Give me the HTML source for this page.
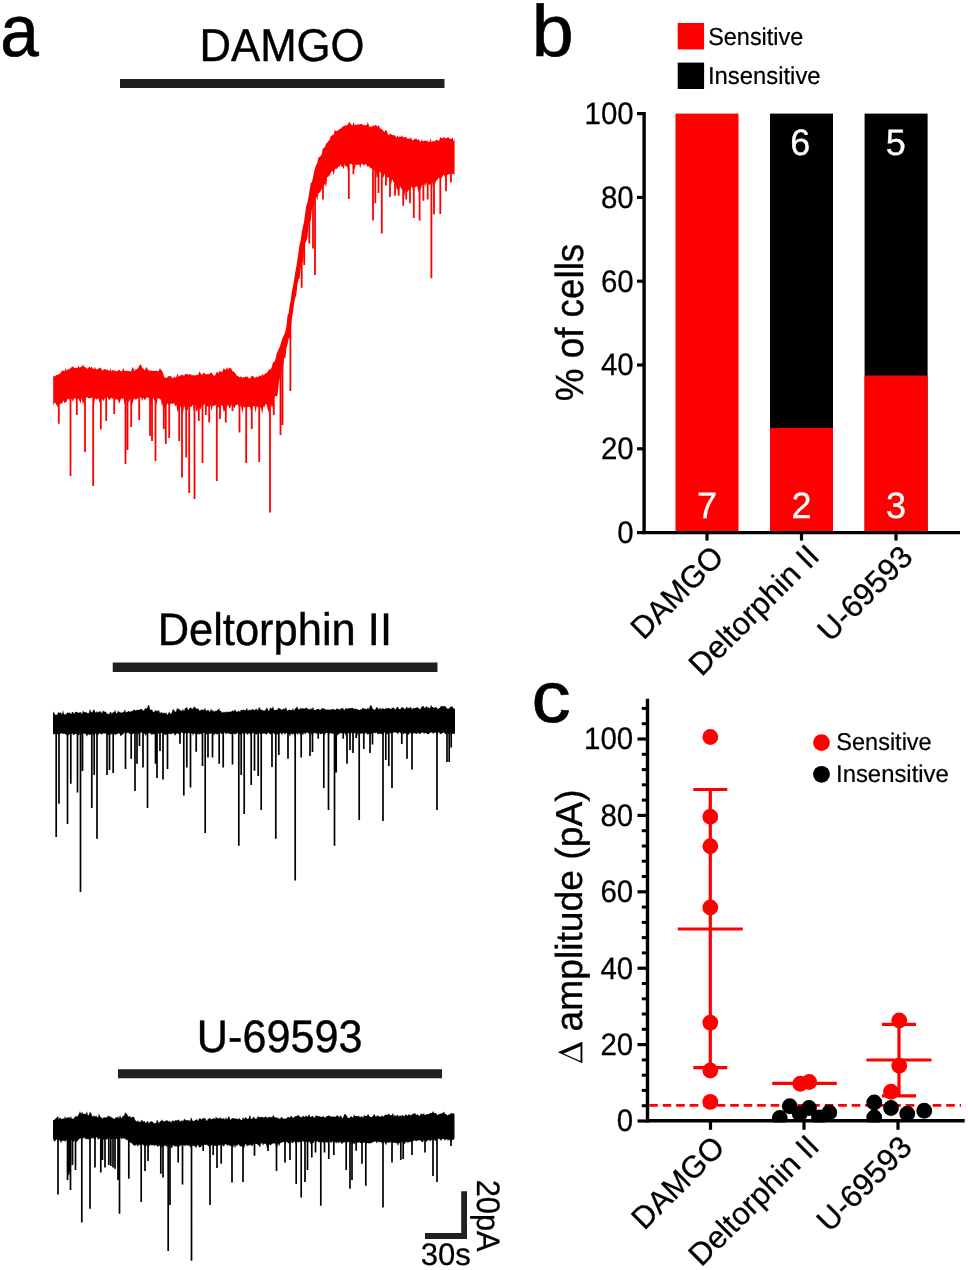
<!DOCTYPE html>
<html><head><meta charset="utf-8"><title>Figure</title>
<style>html,body{margin:0;padding:0;background:#fff}svg{display:block;will-change:transform}text{font-family:"Liberation Sans",sans-serif;fill:#000;text-rendering:geometricPrecision}</style></head>
<body>
<svg width="968" height="1270" viewBox="0 0 968 1270">
<rect width="968" height="1270" fill="#fff"/>
<text transform="translate(0.15,56.10) scale(0.9496,1)" font-size="73" style="fill:#000;stroke:#000;stroke-width:0.66px">a</text>
<text transform="translate(531.70,56.30) scale(1.0348,1)" font-size="72.8" style="fill:#000;stroke:#000;stroke-width:0.66px">b</text>
<text transform="translate(531.57,721.60) scale(1.0825,1)" font-size="72.4" style="fill:#000;stroke:#000;stroke-width:0.65px">c</text>
<text transform="translate(199.39,60.75) scale(0.9506,1)" font-size="46" style="fill:#000;stroke:#000;stroke-width:0.41px">DAMGO</text>
<rect x="120" y="79" width="324.5" height="9" fill="#231f20"/>
<path d="M53.2,375.7 54.4,376.5 55.5,375.8 56.6,375.1 57.7,375.1 58.8,374.0 59.9,374.1 61.0,372.2 62.1,370.5 63.2,370.6 64.3,371.5 65.4,368.5 66.5,370.4 67.5,369.6 68.6,369.5 69.7,368.5 70.8,368.3 71.9,366.4 73.0,366.5 74.1,367.7 75.2,368.2 76.3,367.6 77.4,368.2 78.5,365.6 79.6,367.8 80.7,367.1 81.8,366.5 82.9,364.4 84.0,366.8 85.1,366.9 86.2,368.0 87.3,368.8 88.4,367.8 89.5,366.5 90.6,367.9 91.7,366.5 92.8,368.5 93.9,369.3 95.0,366.7 96.1,369.8 97.2,369.1 98.3,369.1 99.4,367.6 100.5,367.9 101.6,368.9 102.7,370.7 103.8,369.3 104.9,369.1 106.0,369.9 107.1,369.2 108.2,370.3 109.3,371.2 110.4,368.5 111.5,371.3 112.6,369.8 113.7,371.0 114.8,370.1 115.9,371.6 117.0,371.3 118.1,370.6 119.2,369.6 120.3,371.1 121.4,371.6 122.5,370.3 123.6,367.9 124.7,371.4 125.8,370.8 126.9,370.8 128.0,371.0 129.1,371.0 130.2,371.4 131.3,371.3 132.4,366.7 133.5,368.4 134.6,371.3 135.7,369.1 136.8,369.6 137.9,368.6 139.0,366.2 140.1,364.3 141.2,364.9 142.3,368.0 143.4,368.6 144.5,370.6 145.6,368.7 146.7,367.1 147.8,369.6 148.9,370.5 150.0,370.5 151.1,370.5 152.2,371.0 153.3,371.1 154.4,370.8 155.5,371.0 156.6,370.5 157.7,371.5 158.8,370.8 159.9,368.3 161.0,369.8 162.1,371.1 163.2,373.7 164.3,377.4 165.4,377.4 166.5,377.9 167.6,377.1 168.7,376.1 169.8,376.3 170.9,376.1 172.0,377.7 173.1,378.4 174.2,376.4 175.3,377.7 176.4,376.9 177.5,373.6 178.6,377.0 179.7,375.7 180.8,375.6 181.9,374.5 183.0,375.3 184.1,375.8 185.2,373.7 186.3,374.4 187.4,373.4 188.5,375.1 189.6,374.0 190.7,374.2 191.8,375.6 192.9,374.9 194.0,375.5 195.1,375.4 196.2,375.1 197.3,375.3 198.4,374.3 199.5,371.3 200.6,373.2 201.7,375.1 202.8,373.8 203.9,372.5 205.0,373.7 206.1,374.4 207.2,374.0 208.3,374.3 209.4,374.0 210.5,372.7 211.6,372.6 212.7,374.4 213.8,375.6 214.9,376.0 216.0,373.2 217.1,371.4 218.2,373.8 219.3,371.0 220.4,371.6 221.5,371.9 222.6,371.3 223.7,368.1 224.8,369.3 225.9,370.1 227.0,367.0 228.1,369.8 229.2,367.6 230.3,368.3 231.4,368.5 232.5,371.8 233.6,371.0 234.7,372.8 235.8,373.8 236.9,376.2 238.0,375.8 239.1,377.3 240.2,377.0 241.3,376.2 242.4,378.2 243.5,377.1 244.6,377.2 245.7,376.4 246.8,376.7 247.9,376.7 249.0,378.5 250.1,378.6 251.2,376.4 252.3,375.6 253.4,376.8 254.5,377.6 255.6,377.8 256.7,376.2 257.8,377.6 258.9,376.2 260.0,375.3 261.1,376.6 262.2,373.7 263.3,375.5 264.4,374.3 265.5,373.4 266.6,372.9 267.7,371.8 268.8,369.9 269.9,369.4 271.0,369.0 272.1,365.7 273.2,362.1 274.3,362.0 275.4,359.4 276.5,354.2 277.6,351.6 278.7,349.1 279.8,346.7 280.9,343.2 282.0,339.4 283.1,336.9 284.2,334.6 285.3,331.6 286.4,326.6 287.5,315.8 288.6,313.4 289.7,304.9 290.8,300.2 291.9,291.3 293.0,286.1 294.1,279.8 295.2,272.5 296.3,266.7 297.4,260.0 298.5,252.6 299.6,244.0 300.7,240.4 301.8,232.6 302.9,226.9 304.1,221.2 305.2,213.2 306.3,205.7 307.4,202.7 308.5,197.1 309.6,190.1 310.7,183.6 311.8,181.9 312.9,178.1 314.0,172.1 315.1,167.9 316.2,164.4 317.3,163.2 318.4,157.5 319.5,157.0 320.6,156.0 321.7,154.5 322.8,148.5 323.9,147.9 325.0,147.0 326.1,143.3 327.2,143.0 328.3,141.1 329.4,140.2 330.5,136.6 331.6,135.9 332.7,134.6 333.8,134.8 334.9,129.2 336.0,131.5 337.1,130.7 338.2,130.5 339.3,128.9 340.4,129.0 341.5,127.6 342.6,126.9 343.7,125.9 344.8,125.4 345.9,125.4 347.0,125.3 348.1,124.3 349.2,121.4 350.3,123.6 351.4,124.8 352.5,125.5 353.6,122.0 354.7,125.2 355.8,124.5 356.9,125.2 358.0,123.9 359.1,124.8 360.2,124.0 361.3,124.0 362.4,124.5 363.5,125.0 364.6,125.4 365.7,125.1 366.8,125.0 367.9,121.8 369.0,126.0 370.1,126.8 371.2,126.8 372.3,126.6 373.4,125.2 374.5,126.1 375.6,124.8 376.7,126.1 377.8,126.4 378.9,125.0 380.0,128.5 381.1,128.6 382.2,129.7 383.3,130.7 384.4,131.9 385.5,130.3 386.6,130.2 387.7,133.8 388.8,135.2 389.9,133.7 391.0,134.0 392.1,135.1 393.2,135.2 394.3,135.0 395.4,136.3 396.5,137.3 397.6,135.5 398.7,137.6 399.8,136.2 400.9,137.0 402.0,135.2 403.1,137.6 404.2,137.3 405.3,137.1 406.4,137.3 407.5,138.8 408.6,138.5 409.7,139.0 410.8,137.2 411.9,139.7 413.0,140.6 414.1,139.3 415.2,138.7 416.3,138.7 417.4,139.9 418.5,139.2 419.6,140.8 420.7,142.0 421.8,139.0 422.9,141.4 424.0,140.8 425.1,140.6 426.2,141.0 427.3,140.8 428.4,141.7 429.5,142.1 430.6,138.6 431.7,142.4 432.8,140.5 433.9,141.6 435.0,141.1 436.1,139.8 437.2,140.0 438.3,140.9 439.4,139.9 440.5,136.9 441.6,138.0 442.7,138.6 443.8,136.4 444.9,138.6 446.0,138.1 447.1,138.0 448.2,136.9 449.3,138.4 450.4,138.7 451.5,139.0 452.6,137.3 453.7,141.4 454.6,138.1 L454.6,174.6 453.7,174.2 452.6,173.5 451.5,174.7 450.4,173.0 449.3,174.9 448.2,173.7 447.1,175.4 446.0,174.6 444.9,177.2 443.8,174.2 442.7,176.3 441.6,178.2 440.5,175.7 439.4,178.8 438.3,177.8 437.2,180.4 436.1,180.4 435.0,184.5 433.9,180.2 432.8,182.8 431.7,188.3 430.6,183.5 429.5,185.0 428.4,184.2 427.3,184.5 426.2,182.8 425.1,186.8 424.0,182.8 422.9,184.4 421.8,185.5 420.7,190.4 419.6,184.7 418.5,193.1 417.4,187.2 416.3,185.9 415.2,187.5 414.1,187.8 413.0,190.9 411.9,186.1 410.8,188.5 409.7,188.8 408.6,190.1 407.5,192.6 406.4,188.8 405.3,190.2 404.2,197.0 403.1,190.4 402.0,189.6 400.9,187.7 399.8,185.7 398.7,193.9 397.6,189.5 396.5,189.1 395.4,181.8 394.3,183.6 393.2,181.2 392.1,179.2 391.0,185.2 389.9,179.0 388.8,177.1 387.7,178.2 386.6,175.8 385.5,176.8 384.4,173.5 383.3,178.1 382.2,176.9 381.1,171.8 380.0,173.0 378.9,170.5 377.8,176.9 376.7,178.1 375.6,168.6 374.5,170.9 373.4,168.4 372.3,168.1 371.2,168.6 370.1,168.0 369.0,165.7 367.9,167.0 366.8,165.4 365.7,163.4 364.6,165.4 363.5,165.1 362.4,163.7 361.3,164.1 360.2,168.4 359.1,164.2 358.0,165.0 356.9,164.9 355.8,164.2 354.7,170.0 353.6,165.8 352.5,164.4 351.4,164.1 350.3,164.1 349.2,162.9 348.1,171.9 347.0,166.0 345.9,167.0 344.8,164.0 343.7,169.2 342.6,166.7 341.5,166.5 340.4,164.4 339.3,167.0 338.2,166.4 337.1,168.8 336.0,169.1 334.9,168.7 333.8,175.7 332.7,171.2 331.6,171.2 330.5,173.3 329.4,175.5 328.3,176.7 327.2,177.1 326.1,187.3 325.0,183.6 323.9,185.7 322.8,186.7 321.7,188.8 320.6,191.2 319.5,192.8 318.4,193.5 317.3,200.9 316.2,196.2 315.1,200.3 314.0,205.7 312.9,204.9 311.8,210.5 310.7,221.8 309.6,219.5 308.5,226.4 307.4,237.2 306.3,241.3 305.2,242.7 304.1,250.4 302.9,262.0 301.8,262.3 300.7,267.9 299.6,278.8 298.5,279.4 297.4,284.4 296.3,294.7 295.2,298.3 294.1,303.6 293.0,312.3 291.9,317.9 290.8,330.4 289.7,338.1 288.6,338.7 287.5,344.6 286.4,348.4 285.3,358.4 284.2,357.8 283.1,367.7 282.0,370.1 280.9,375.0 279.8,378.1 278.7,383.5 277.6,395.1 276.5,396.5 275.4,395.9 274.3,397.1 273.2,403.9 272.1,408.6 271.0,404.5 269.9,403.0 268.8,413.1 267.7,409.3 266.6,404.6 265.5,404.1 264.4,407.3 263.3,406.6 262.2,414.6 261.1,408.2 260.0,407.0 258.9,405.7 257.8,407.8 256.7,405.9 255.6,412.9 254.5,405.9 253.4,406.1 252.3,408.1 251.2,412.5 250.1,407.2 249.0,406.8 247.9,406.7 246.8,407.8 245.7,406.6 244.6,407.9 243.5,405.9 242.4,413.6 241.3,407.3 240.2,405.2 239.1,406.7 238.0,404.4 236.9,404.8 235.8,404.9 234.7,408.3 233.6,406.9 232.5,404.3 231.4,404.9 230.3,407.4 229.2,408.4 228.1,404.7 227.0,406.3 225.9,411.8 224.8,410.6 223.7,412.1 222.6,406.0 221.5,404.9 220.4,406.8 219.3,407.7 218.2,407.2 217.1,407.0 216.0,405.4 214.9,405.1 213.8,406.6 212.7,405.3 211.6,411.0 210.5,405.4 209.4,404.5 208.3,406.7 207.2,406.3 206.1,406.4 205.0,403.2 203.9,405.6 202.8,403.8 201.7,405.9 200.6,409.3 199.5,408.4 198.4,406.2 197.3,411.6 196.2,411.2 195.1,404.8 194.0,411.1 192.9,404.4 191.8,406.4 190.7,407.1 189.6,405.9 188.5,406.7 187.4,410.8 186.3,410.6 185.2,409.2 184.1,405.2 183.0,414.1 181.9,410.4 180.8,407.3 179.7,405.4 178.6,410.1 177.5,412.5 176.4,404.7 175.3,406.5 174.2,403.3 173.1,403.8 172.0,403.8 170.9,403.6 169.8,405.0 168.7,404.9 167.6,403.2 166.5,405.4 165.4,402.4 164.3,410.6 163.2,401.8 162.1,407.2 161.0,400.2 159.9,398.7 158.8,398.5 157.7,397.9 156.6,405.0 155.5,400.8 154.4,400.3 153.3,397.8 152.2,399.4 151.1,406.3 150.0,399.8 148.9,398.2 147.8,397.6 146.7,397.2 145.6,399.0 144.5,400.3 143.4,397.5 142.3,401.5 141.2,397.5 140.1,397.6 139.0,397.6 137.9,398.5 136.8,399.0 135.7,400.0 134.6,398.3 133.5,400.1 132.4,404.3 131.3,400.6 130.2,398.6 129.1,402.6 128.0,400.8 126.9,400.7 125.8,399.4 124.7,405.2 123.6,398.0 122.5,399.1 121.4,398.0 120.3,400.6 119.2,404.0 118.1,400.6 117.0,398.7 115.9,400.1 114.8,398.4 113.7,397.2 112.6,399.1 111.5,397.6 110.4,398.8 109.3,400.2 108.2,398.7 107.1,396.7 106.0,397.6 104.9,397.7 103.8,400.9 102.7,399.9 101.6,398.0 100.5,403.7 99.4,402.3 98.3,397.8 97.2,399.6 96.1,399.2 95.0,398.1 93.9,406.0 92.8,396.3 91.7,398.1 90.6,397.8 89.5,398.5 88.4,397.9 87.3,397.6 86.2,397.3 85.1,397.9 84.0,401.7 82.9,404.9 81.8,397.5 80.7,403.5 79.6,401.2 78.5,398.6 77.4,399.5 76.3,398.6 75.2,398.2 74.1,398.2 73.0,402.2 71.9,398.5 70.8,400.7 69.7,399.3 68.6,399.3 67.5,398.9 66.5,401.7 65.4,402.3 64.3,403.0 63.2,400.3 62.1,404.1 61.0,402.9 59.9,404.7 58.8,402.9 57.7,407.2 56.6,405.2 55.5,402.7 54.4,403.0 53.2,405.8Z" fill="#ff0000"/>
<path d="M58.8,389.1V423.8M70.5,383.8V476.0M76.8,383.2V415.0M85.0,383.0V452.0M93.2,383.7V486.0M100.8,384.3V429.5M106.2,384.5V421.0M114.2,384.8V414.0M125.5,384.9V464.0M127.5,384.9V450.0M131.2,384.8V427.0M139.2,382.8V420.0M150.0,385.0V436.0M152.0,385.1V441.0M155.5,385.3V461.0M163.8,390.4V429.0M165.8,391.3V444.0M169.2,391.3V438.0M179.2,391.5V441.0M182.0,391.4V477.5M186.2,391.1V457.5M189.2,390.9V493.0M194.5,390.5V499.0M198.8,390.2V421.0M202.5,389.9V463.0M205.8,389.8V415.0M209.2,390.0V422.5M216.8,390.0V481.0M220.0,389.5V419.0M225.8,388.2V422.5M232.5,388.5V411.0M239.5,391.6V432.5M246.2,392.0V463.0M251.8,392.1V429.0M259.2,391.6V462.0M270.0,387.5V512.5M273.8,381.9V415.0M280.5,360.3V435.0M282.5,353.0V425.0M290.4,316.6V391.0M301.7,248.8V287.7M304.2,233.8V265.0M309.3,206.8V243.6M313.0,191.5V248.6M315.0,184.0V275.0M323.0,168.5V199.5M348.8,144.5V199.0M353.4,144.6V174.3M373.0,148.2V220.4M375.3,148.6V203.3M378.5,149.2V193.0M381.8,151.7V233.5M386.0,154.8V185.6M390.0,157.2V197.0M395.0,159.8V195.7M398.7,161.6V195.7M403.2,163.8V205.8M406.2,163.9V199.5M410.0,163.7V203.3M413.8,163.6V217.9M419.6,163.3V220.4M423.4,163.1V200.8M427.7,162.9V199.5M431.4,162.6V278.3M434.0,161.4V214.6M440.3,158.5V213.9M446.0,157.0V191.2M451.0,157.3V182.6" stroke="#ff0000" stroke-width="1.8" fill="none"/>
<text transform="translate(157.66,644.50) scale(0.9552,1)" font-size="45.5" style="fill:#000;stroke:#000;stroke-width:0.41px">Deltorphin II</text>
<rect x="112.75" y="662.5" width="324.75" height="9.5" fill="#231f20"/>
<path d="M53.0,711.5 54.0,712.8 55.0,714.6 56.0,714.7 57.0,714.9 58.0,712.4 59.0,712.6 60.0,713.1 61.0,712.2 62.0,714.7 63.0,709.9 64.0,714.4 65.0,714.3 66.0,714.6 67.0,712.6 68.0,712.5 69.0,713.2 70.0,712.3 71.0,714.5 72.0,712.1 73.0,712.1 74.0,714.1 75.0,712.3 76.0,711.8 77.0,712.1 78.0,712.4 79.0,712.9 80.0,712.0 81.0,712.6 82.0,714.2 83.0,710.5 84.0,712.1 85.0,712.4 86.0,711.9 87.0,712.7 88.0,713.4 89.0,712.7 90.0,708.7 91.0,711.9 92.0,712.6 93.0,710.5 94.0,709.2 95.0,711.6 96.0,713.0 97.0,711.1 98.0,712.6 99.0,711.8 100.0,711.3 101.0,711.7 102.0,713.5 103.0,710.3 104.0,711.8 105.0,711.5 106.0,712.0 107.0,713.7 108.0,713.7 109.0,714.3 110.0,712.2 111.0,712.1 112.0,714.1 113.0,711.7 114.0,712.8 115.0,709.5 116.0,712.7 117.0,713.5 118.0,710.3 119.0,712.4 120.0,711.5 121.0,713.0 122.0,712.4 123.0,712.3 124.0,711.7 125.0,709.2 126.0,712.4 127.0,711.9 128.0,711.4 129.0,710.7 130.0,712.5 131.0,710.7 132.0,711.4 133.0,710.4 134.0,709.4 135.0,710.5 136.0,710.2 137.0,710.1 138.0,709.8 139.0,709.9 140.0,709.5 141.0,708.8 142.0,709.3 143.0,710.9 144.0,709.7 145.0,708.9 146.0,707.4 147.0,709.1 148.0,705.3 149.0,705.1 150.0,709.6 151.0,710.0 152.0,709.3 153.0,711.7 154.0,712.3 155.0,710.3 156.0,710.3 157.0,711.5 158.0,710.6 159.0,710.2 160.0,713.4 161.0,712.0 162.0,712.6 163.0,713.5 164.0,712.3 165.0,713.7 166.0,712.2 167.0,714.5 168.0,714.4 169.0,711.6 170.0,713.1 171.0,713.9 172.0,711.9 173.0,708.8 174.0,709.9 175.0,711.6 176.0,711.9 177.0,707.9 178.0,709.0 179.0,708.8 180.0,710.5 181.0,710.2 182.0,710.9 183.0,708.8 184.0,711.5 185.0,708.1 186.0,708.2 187.0,706.8 188.0,710.0 189.0,709.3 190.0,707.2 191.0,708.2 192.0,708.3 193.0,709.0 194.0,706.2 195.0,707.5 196.0,707.8 197.0,709.4 198.0,707.9 199.0,709.7 200.0,711.2 201.0,709.2 202.0,709.9 203.0,709.2 204.0,710.6 205.0,707.5 206.0,710.7 207.0,710.6 208.0,709.8 209.0,710.8 210.0,711.9 211.0,708.4 212.0,710.8 213.0,710.0 214.0,712.3 215.0,710.3 216.0,711.5 217.0,710.0 218.0,710.1 219.0,708.0 220.0,710.9 221.0,710.9 222.0,712.9 223.0,711.8 224.0,712.5 225.0,711.4 226.0,712.8 227.0,711.3 228.0,711.9 229.0,712.1 230.0,711.5 231.0,711.8 232.0,711.1 233.0,710.3 234.0,711.4 235.0,709.3 236.0,710.9 237.0,712.5 238.0,710.5 239.0,711.3 240.0,711.8 241.0,709.7 242.0,710.2 243.0,709.8 244.0,709.8 245.0,710.8 246.0,709.6 247.0,708.1 248.0,711.3 249.0,709.2 250.0,710.4 251.0,709.5 252.0,709.7 253.0,708.7 254.0,710.3 255.0,710.1 256.0,708.5 257.0,709.2 258.0,710.4 259.0,706.4 260.0,708.6 261.0,709.8 262.0,710.1 263.0,710.4 264.0,710.4 265.0,710.4 266.0,709.0 267.0,706.9 268.0,710.0 269.0,710.9 270.0,707.5 271.0,708.3 272.0,708.6 273.0,706.2 274.0,710.1 275.0,710.3 276.0,709.5 277.0,710.3 278.0,708.3 279.0,708.3 280.0,708.6 281.0,709.2 282.0,709.9 283.0,708.8 284.0,708.7 285.0,708.9 286.0,707.0 287.0,710.5 288.0,710.4 289.0,709.5 290.0,710.0 291.0,709.7 292.0,710.6 293.0,707.9 294.0,710.9 295.0,708.4 296.0,708.3 297.0,706.2 298.0,708.4 299.0,710.1 300.0,708.2 301.0,708.3 302.0,708.7 303.0,708.1 304.0,708.8 305.0,708.4 306.0,707.6 307.0,708.0 308.0,709.4 309.0,708.6 310.0,710.0 311.0,708.1 312.0,709.4 313.0,706.8 314.0,709.8 315.0,709.9 316.0,709.9 317.0,709.1 318.0,709.0 319.0,708.7 320.0,710.5 321.0,708.9 322.0,708.2 323.0,708.2 324.0,708.8 325.0,708.7 326.0,709.9 327.0,709.5 328.0,709.6 329.0,709.8 330.0,709.5 331.0,709.6 332.0,709.5 333.0,709.1 334.0,709.1 335.0,710.3 336.0,709.2 337.0,708.2 338.0,709.5 339.0,708.7 340.0,710.0 341.0,708.1 342.0,708.7 343.0,707.4 344.0,710.5 345.0,709.0 346.0,708.1 347.0,709.1 348.0,708.6 349.0,708.2 350.0,708.1 351.0,708.5 352.0,707.8 353.0,708.1 354.0,709.3 355.0,708.8 356.0,708.4 357.0,709.8 358.0,709.1 359.0,710.2 360.0,709.4 361.0,709.6 362.0,708.9 363.0,707.5 364.0,708.8 365.0,708.8 366.0,708.8 367.0,709.3 368.0,707.5 369.0,709.6 370.0,705.5 371.0,705.3 372.0,706.8 373.0,709.4 374.0,709.3 375.0,710.1 376.0,707.7 377.0,707.3 378.0,708.1 379.0,709.7 380.0,707.2 381.0,709.7 382.0,708.0 383.0,708.8 384.0,708.6 385.0,709.5 386.0,707.5 387.0,708.7 388.0,708.1 389.0,708.0 390.0,708.9 391.0,708.4 392.0,708.4 393.0,707.6 394.0,707.7 395.0,709.4 396.0,709.0 397.0,706.7 398.0,707.0 399.0,709.3 400.0,708.9 401.0,708.4 402.0,706.4 403.0,707.9 404.0,707.9 405.0,709.6 406.0,707.5 407.0,706.7 408.0,708.8 409.0,707.2 410.0,708.2 411.0,706.5 412.0,709.7 413.0,707.8 414.0,708.3 415.0,708.3 416.0,707.6 417.0,707.6 418.0,707.5 419.0,708.5 420.0,709.5 421.0,707.8 422.0,706.4 423.0,705.7 424.0,707.1 425.0,708.5 426.0,706.1 427.0,707.1 428.0,707.8 429.0,707.2 430.0,709.1 431.0,704.4 432.0,707.0 433.0,707.0 434.0,708.2 435.0,707.2 436.0,707.0 437.0,708.0 438.0,709.3 439.0,708.2 440.0,707.5 441.0,706.1 442.0,706.2 443.0,706.3 444.0,706.3 445.0,706.0 446.0,706.7 447.0,708.9 448.0,707.9 449.0,709.2 450.0,706.8 451.0,707.1 452.0,705.9 453.0,707.5 454.0,708.8 455.0,708.8 L455.0,733.4 454.0,733.9 453.0,733.6 452.0,734.2 451.0,732.2 450.0,734.1 449.0,733.8 448.0,733.9 447.0,732.6 446.0,734.2 445.0,733.8 444.0,732.5 443.0,732.5 442.0,733.5 441.0,733.8 440.0,734.2 439.0,732.1 438.0,732.7 437.0,735.8 436.0,731.9 435.0,732.9 434.0,732.7 433.0,733.9 432.0,732.1 431.0,733.0 430.0,732.2 429.0,733.9 428.0,734.2 427.0,734.0 426.0,732.8 425.0,733.1 424.0,733.9 423.0,731.9 422.0,733.0 421.0,732.7 420.0,734.0 419.0,734.1 418.0,732.1 417.0,734.2 416.0,733.4 415.0,733.5 414.0,732.8 413.0,733.9 412.0,733.0 411.0,733.6 410.0,732.7 409.0,734.0 408.0,735.1 407.0,733.7 406.0,733.7 405.0,732.9 404.0,733.8 403.0,734.2 402.0,732.6 401.0,733.9 400.0,732.2 399.0,732.3 398.0,734.3 397.0,732.8 396.0,732.4 395.0,732.4 394.0,732.2 393.0,732.9 392.0,732.5 391.0,734.0 390.0,732.8 389.0,733.1 388.0,733.8 387.0,734.2 386.0,733.6 385.0,732.1 384.0,732.9 383.0,734.8 382.0,733.9 381.0,734.0 380.0,733.6 379.0,733.8 378.0,734.4 377.0,733.1 376.0,732.6 375.0,733.4 374.0,732.5 373.0,733.2 372.0,733.8 371.0,733.6 370.0,734.1 369.0,733.8 368.0,734.4 367.0,734.2 366.0,732.6 365.0,733.7 364.0,733.7 363.0,732.8 362.0,733.9 361.0,733.2 360.0,734.3 359.0,733.8 358.0,732.5 357.0,736.9 356.0,732.6 355.0,733.2 354.0,732.9 353.0,734.4 352.0,732.5 351.0,733.6 350.0,733.9 349.0,733.4 348.0,732.9 347.0,734.3 346.0,736.7 345.0,732.7 344.0,734.1 343.0,732.9 342.0,732.9 341.0,733.5 340.0,732.9 339.0,734.1 338.0,734.7 337.0,735.5 336.0,732.4 335.0,733.9 334.0,732.8 333.0,734.5 332.0,733.3 331.0,733.5 330.0,732.8 329.0,734.8 328.0,733.5 327.0,732.7 326.0,732.9 325.0,734.6 324.0,734.8 323.0,733.3 322.0,734.1 321.0,733.8 320.0,734.4 319.0,732.5 318.0,732.6 317.0,734.5 316.0,732.9 315.0,733.3 314.0,732.7 313.0,733.8 312.0,735.9 311.0,732.5 310.0,734.0 309.0,734.0 308.0,732.7 307.0,732.6 306.0,732.9 305.0,734.4 304.0,732.5 303.0,735.4 302.0,733.0 301.0,734.0 300.0,734.6 299.0,732.4 298.0,734.7 297.0,734.3 296.0,732.7 295.0,737.3 294.0,733.7 293.0,733.9 292.0,734.7 291.0,733.1 290.0,736.8 289.0,734.3 288.0,734.0 287.0,732.7 286.0,733.2 285.0,734.4 284.0,733.3 283.0,732.8 282.0,735.4 281.0,732.7 280.0,733.6 279.0,733.9 278.0,734.2 277.0,734.4 276.0,734.0 275.0,734.5 274.0,733.5 273.0,733.1 272.0,732.6 271.0,734.0 270.0,734.4 269.0,733.1 268.0,732.5 267.0,734.6 266.0,734.3 265.0,733.7 264.0,733.2 263.0,733.7 262.0,733.7 261.0,734.7 260.0,734.1 259.0,732.9 258.0,732.4 257.0,734.8 256.0,734.0 255.0,734.2 254.0,732.5 253.0,733.0 252.0,733.8 251.0,734.1 250.0,734.3 249.0,732.7 248.0,734.7 247.0,734.2 246.0,733.1 245.0,733.5 244.0,734.6 243.0,732.5 242.0,734.5 241.0,734.4 240.0,734.6 239.0,733.8 238.0,732.7 237.0,733.3 236.0,734.0 235.0,734.4 234.0,733.3 233.0,734.3 232.0,733.7 231.0,734.3 230.0,734.2 229.0,732.9 228.0,733.9 227.0,732.5 226.0,734.8 225.0,732.7 224.0,732.6 223.0,732.8 222.0,734.4 221.0,733.5 220.0,732.6 219.0,733.8 218.0,734.5 217.0,733.7 216.0,734.5 215.0,733.0 214.0,736.1 213.0,733.2 212.0,733.3 211.0,733.6 210.0,734.0 209.0,733.5 208.0,733.0 207.0,734.0 206.0,734.7 205.0,733.3 204.0,732.9 203.0,732.6 202.0,733.5 201.0,734.2 200.0,733.4 199.0,734.7 198.0,733.6 197.0,734.8 196.0,734.4 195.0,733.5 194.0,733.2 193.0,735.8 192.0,732.8 191.0,733.9 190.0,733.7 189.0,733.0 188.0,732.8 187.0,733.8 186.0,733.0 185.0,733.5 184.0,734.0 183.0,733.0 182.0,732.5 181.0,732.4 180.0,734.7 179.0,733.7 178.0,734.0 177.0,733.0 176.0,734.3 175.0,735.7 174.0,733.8 173.0,733.0 172.0,733.7 171.0,734.2 170.0,734.0 169.0,733.5 168.0,734.0 167.0,734.3 166.0,734.7 165.0,734.7 164.0,734.2 163.0,734.2 162.0,732.9 161.0,732.7 160.0,732.6 159.0,733.8 158.0,733.4 157.0,732.4 156.0,733.3 155.0,734.4 154.0,734.1 153.0,734.2 152.0,734.4 151.0,734.5 150.0,732.4 149.0,734.1 148.0,732.8 147.0,733.0 146.0,736.0 145.0,734.6 144.0,733.2 143.0,733.4 142.0,732.5 141.0,732.6 140.0,733.0 139.0,733.2 138.0,734.6 137.0,732.8 136.0,734.1 135.0,734.3 134.0,732.9 133.0,734.3 132.0,734.0 131.0,732.9 130.0,733.9 129.0,733.4 128.0,732.5 127.0,733.1 126.0,733.9 125.0,733.1 124.0,732.8 123.0,734.5 122.0,734.4 121.0,736.5 120.0,734.8 119.0,733.0 118.0,733.7 117.0,733.9 116.0,734.4 115.0,734.8 114.0,733.9 113.0,733.3 112.0,734.5 111.0,733.9 110.0,734.4 109.0,734.4 108.0,735.3 107.0,734.0 106.0,733.1 105.0,733.9 104.0,733.1 103.0,733.6 102.0,734.5 101.0,734.2 100.0,733.3 99.0,733.7 98.0,735.2 97.0,734.7 96.0,734.0 95.0,733.6 94.0,734.7 93.0,735.2 92.0,733.7 91.0,734.0 90.0,735.0 89.0,734.7 88.0,733.9 87.0,736.8 86.0,734.4 85.0,733.7 84.0,733.5 83.0,733.7 82.0,733.4 81.0,734.4 80.0,733.5 79.0,735.3 78.0,734.9 77.0,733.8 76.0,734.2 75.0,733.7 74.0,735.0 73.0,734.7 72.0,733.0 71.0,734.0 70.0,734.8 69.0,733.7 68.0,736.3 67.0,734.6 66.0,734.7 65.0,733.9 64.0,733.6 63.0,734.0 62.0,733.6 61.0,733.2 60.0,734.1 59.0,735.0 58.0,733.8 57.0,734.6 56.0,733.0 55.0,734.6 54.0,734.2 53.0,733.8Z" fill="#000"/>
<path d="M56.2,723.9V837.0M59.0,723.6V803.8M67.5,723.4V824.0M70.8,723.4V783.8M77.5,723.3V792.5M80.5,723.2V892.0M82.5,723.2V771.0M91.8,723.0V808.0M94.2,722.9V775.0M97.0,722.8V838.8M107.0,723.3V775.0M109.5,723.5V770.0M113.2,723.3V773.0M125.5,722.5V769.0M131.2,722.3V758.8M135.0,722.2V791.0M137.0,722.1V763.8M139.5,722.0V746.0M143.0,721.8V767.5M147.5,719.7V808.0M155.5,722.2V763.8M157.0,722.3V778.0M160.0,722.7V751.0M163.0,723.0V779.5M167.5,723.1V769.0M180.0,722.1V743.8M183.8,721.8V795.5M186.8,721.5V767.5M190.5,721.1V787.5M196.2,720.7V751.8M202.5,721.6V766.0M205.2,721.8V833.0M208.0,721.9V757.5M212.5,722.1V757.5M219.2,722.2V763.8M223.2,722.3V767.5M232.5,722.4V764.5M238.8,722.1V845.8M241.2,721.9V775.0M244.2,721.8V814.0M251.2,721.5V785.0M254.5,721.4V770.8M258.2,721.4V776.0M261.2,721.4V810.0M272.0,721.2V767.0M275.8,721.2V838.8M278.8,721.2V755.0M288.0,721.2V758.8M295.2,721.2V880.5M301.2,721.2V757.5M310.0,721.2V756.0M312.5,721.2V752.0M318.2,721.2V738.8M323.8,721.1V788.0M328.5,721.1V810.0M334.5,721.1V845.8M336.2,721.1V772.5M343.2,721.0V738.8M347.0,721.0V763.8M350.0,721.0V750.0M353.0,721.0V753.0M356.2,720.9V738.0M359.2,720.9V820.0M363.8,720.9V749.0M370.0,720.8V753.0M372.5,720.8V744.5M383.0,720.7V821.0M385.8,720.6V760.0M388.8,720.6V766.0M392.0,720.6V788.0M401.8,720.5V744.0M407.0,720.5V758.8M412.0,720.4V769.5M437.0,720.3V810.0M447.0,720.2V762.0M449.2,720.2V762.0M451.2,720.2V747.5" stroke="#000" stroke-width="1.7" fill="none"/>
<text transform="translate(196.85,1051.80) scale(0.9489,1)" font-size="45.5" style="fill:#000;stroke:#000;stroke-width:0.41px">U-69593</text>
<rect x="118" y="1069.25" width="324" height="9" fill="#231f20"/>
<path d="M53.0,1119.8 54.0,1120.2 55.0,1119.3 56.0,1118.0 57.0,1117.6 58.0,1115.9 59.0,1119.5 60.0,1117.1 61.0,1118.7 62.0,1119.2 63.0,1118.0 64.0,1119.3 65.0,1116.1 66.0,1118.8 67.0,1117.3 68.0,1118.0 69.0,1116.6 70.0,1118.7 71.0,1116.0 72.0,1119.1 73.0,1118.6 74.0,1118.6 75.0,1116.3 76.0,1116.3 77.0,1117.0 78.0,1115.2 79.0,1113.9 80.0,1111.1 81.0,1114.0 82.0,1112.0 83.0,1113.4 84.0,1114.0 85.0,1114.2 86.0,1113.6 87.0,1111.4 88.0,1116.0 89.0,1114.6 90.0,1112.0 91.0,1112.8 92.0,1116.0 93.0,1116.8 94.0,1115.2 95.0,1116.7 96.0,1115.8 97.0,1116.7 98.0,1117.8 99.0,1113.2 100.0,1116.5 101.0,1117.0 102.0,1118.2 103.0,1118.4 104.0,1116.7 105.0,1118.1 106.0,1117.0 107.0,1117.5 108.0,1116.1 109.0,1115.5 110.0,1117.3 111.0,1116.3 112.0,1118.2 113.0,1117.8 114.0,1118.9 115.0,1118.4 116.0,1116.7 117.0,1118.1 118.0,1116.1 119.0,1118.5 120.0,1115.0 121.0,1117.8 122.0,1117.9 123.0,1115.2 124.0,1116.6 125.0,1112.2 126.0,1113.6 127.0,1114.0 128.0,1116.2 129.0,1116.8 130.0,1115.7 131.0,1118.0 132.0,1116.7 133.0,1117.0 134.0,1116.7 135.0,1119.8 136.0,1120.9 137.0,1121.8 138.0,1120.2 139.0,1122.1 140.0,1122.1 141.0,1121.0 142.0,1119.4 143.0,1122.0 144.0,1121.1 145.0,1121.5 146.0,1123.6 147.0,1121.2 148.0,1121.3 149.0,1123.4 150.0,1121.7 151.0,1121.2 152.0,1121.5 153.0,1121.9 154.0,1123.6 155.0,1123.0 156.0,1123.2 157.0,1119.7 158.0,1121.1 159.0,1123.4 160.0,1121.0 161.0,1121.2 162.0,1119.2 163.0,1121.2 164.0,1121.6 165.0,1121.2 166.0,1120.5 167.0,1120.6 168.0,1120.5 169.0,1122.1 170.0,1120.5 171.0,1122.5 172.0,1121.2 173.0,1119.9 174.0,1121.5 175.0,1120.8 176.0,1119.8 177.0,1120.9 178.0,1119.6 179.0,1119.9 180.0,1121.2 181.0,1121.6 182.0,1119.8 183.0,1121.7 184.0,1118.9 185.0,1119.3 186.0,1120.5 187.0,1119.9 188.0,1120.4 189.0,1119.9 190.0,1121.6 191.0,1117.1 192.0,1119.4 193.0,1121.1 194.0,1121.3 195.0,1120.1 196.0,1119.9 197.0,1118.7 198.0,1121.2 199.0,1118.7 200.0,1118.1 201.0,1119.3 202.0,1119.4 203.0,1117.8 204.0,1118.7 205.0,1117.6 206.0,1120.0 207.0,1120.9 208.0,1118.5 209.0,1118.9 210.0,1117.4 211.0,1119.4 212.0,1119.1 213.0,1118.8 214.0,1117.7 215.0,1119.6 216.0,1116.4 217.0,1118.4 218.0,1117.9 219.0,1118.4 220.0,1118.1 221.0,1117.4 222.0,1119.0 223.0,1118.7 224.0,1117.7 225.0,1119.9 226.0,1117.1 227.0,1119.8 228.0,1117.5 229.0,1116.1 230.0,1119.6 231.0,1119.5 232.0,1118.0 233.0,1118.4 234.0,1118.0 235.0,1118.8 236.0,1118.5 237.0,1118.5 238.0,1119.5 239.0,1118.3 240.0,1118.6 241.0,1120.2 242.0,1120.1 243.0,1116.8 244.0,1119.5 245.0,1117.6 246.0,1117.6 247.0,1118.8 248.0,1119.0 249.0,1117.7 250.0,1114.5 251.0,1119.1 252.0,1118.9 253.0,1117.4 254.0,1116.4 255.0,1118.9 256.0,1118.3 257.0,1118.7 258.0,1115.8 259.0,1117.3 260.0,1117.4 261.0,1116.7 262.0,1117.0 263.0,1117.3 264.0,1117.8 265.0,1116.5 266.0,1116.8 267.0,1117.7 268.0,1117.7 269.0,1116.6 270.0,1117.7 271.0,1116.4 272.0,1117.7 273.0,1115.3 274.0,1116.1 275.0,1118.0 276.0,1116.8 277.0,1118.5 278.0,1117.4 279.0,1118.5 280.0,1119.0 281.0,1117.4 282.0,1116.9 283.0,1118.8 284.0,1118.8 285.0,1118.4 286.0,1118.7 287.0,1117.7 288.0,1117.1 289.0,1117.0 290.0,1117.8 291.0,1115.8 292.0,1116.5 293.0,1118.2 294.0,1117.2 295.0,1116.4 296.0,1115.8 297.0,1116.2 298.0,1114.8 299.0,1115.8 300.0,1116.7 301.0,1117.3 302.0,1117.3 303.0,1115.3 304.0,1116.9 305.0,1116.7 306.0,1115.5 307.0,1116.4 308.0,1116.5 309.0,1114.0 310.0,1116.4 311.0,1117.2 312.0,1115.7 313.0,1116.3 314.0,1117.7 315.0,1117.0 316.0,1115.5 317.0,1115.6 318.0,1116.2 319.0,1116.2 320.0,1116.3 321.0,1117.2 322.0,1116.5 323.0,1116.6 324.0,1116.3 325.0,1118.0 326.0,1116.8 327.0,1115.9 328.0,1116.1 329.0,1115.3 330.0,1116.3 331.0,1116.8 332.0,1116.3 333.0,1117.2 334.0,1116.1 335.0,1117.0 336.0,1116.7 337.0,1115.3 338.0,1115.6 339.0,1117.5 340.0,1116.0 341.0,1115.6 342.0,1117.8 343.0,1117.9 344.0,1115.1 345.0,1113.7 346.0,1114.7 347.0,1116.4 348.0,1118.0 349.0,1117.8 350.0,1117.9 351.0,1115.8 352.0,1117.3 353.0,1117.5 354.0,1113.9 355.0,1116.2 356.0,1116.1 357.0,1116.0 358.0,1116.4 359.0,1115.4 360.0,1117.8 361.0,1116.2 362.0,1116.4 363.0,1117.8 364.0,1115.1 365.0,1116.1 366.0,1115.9 367.0,1116.1 368.0,1113.8 369.0,1115.7 370.0,1116.7 371.0,1117.1 372.0,1117.1 373.0,1116.1 374.0,1113.9 375.0,1115.2 376.0,1117.2 377.0,1115.3 378.0,1116.1 379.0,1116.1 380.0,1116.7 381.0,1116.8 382.0,1115.2 383.0,1116.6 384.0,1116.4 385.0,1114.7 386.0,1114.9 387.0,1114.8 388.0,1114.6 389.0,1113.4 390.0,1115.1 391.0,1115.4 392.0,1114.7 393.0,1113.0 394.0,1116.5 395.0,1114.4 396.0,1116.8 397.0,1114.4 398.0,1115.4 399.0,1116.5 400.0,1115.2 401.0,1115.9 402.0,1115.6 403.0,1114.9 404.0,1116.4 405.0,1115.6 406.0,1113.9 407.0,1115.7 408.0,1115.5 409.0,1113.7 410.0,1115.3 411.0,1115.4 412.0,1114.4 413.0,1113.8 414.0,1113.7 415.0,1112.9 416.0,1114.7 417.0,1114.7 418.0,1114.3 419.0,1115.9 420.0,1115.4 421.0,1113.2 422.0,1114.3 423.0,1114.2 424.0,1113.3 425.0,1115.5 426.0,1114.4 427.0,1114.0 428.0,1114.3 429.0,1114.0 430.0,1113.2 431.0,1113.0 432.0,1113.0 433.0,1111.1 434.0,1113.0 435.0,1113.3 436.0,1112.7 437.0,1115.2 438.0,1114.4 439.0,1114.5 440.0,1113.4 441.0,1113.8 442.0,1113.4 443.0,1112.8 444.0,1111.5 445.0,1114.0 446.0,1113.8 447.0,1115.3 448.0,1115.2 449.0,1114.3 450.0,1114.4 451.0,1112.8 452.0,1113.3 453.0,1113.9 454.0,1112.8 454.5,1114.4 L454.5,1138.5 454.0,1139.2 453.0,1140.1 452.0,1139.7 451.0,1140.8 450.0,1141.0 449.0,1138.9 448.0,1140.9 447.0,1139.1 446.0,1139.2 445.0,1140.7 444.0,1138.9 443.0,1139.1 442.0,1138.9 441.0,1140.9 440.0,1139.4 439.0,1138.7 438.0,1138.7 437.0,1138.7 436.0,1140.7 435.0,1140.8 434.0,1139.5 433.0,1139.9 432.0,1139.3 431.0,1141.0 430.0,1140.5 429.0,1140.6 428.0,1139.7 427.0,1141.4 426.0,1141.8 425.0,1140.2 424.0,1139.7 423.0,1142.1 422.0,1142.2 421.0,1140.9 420.0,1140.0 419.0,1140.4 418.0,1140.2 417.0,1140.8 416.0,1141.2 415.0,1140.5 414.0,1140.3 413.0,1141.5 412.0,1141.4 411.0,1141.9 410.0,1141.7 409.0,1141.8 408.0,1143.3 407.0,1141.7 406.0,1141.8 405.0,1143.4 404.0,1144.1 403.0,1141.5 402.0,1142.4 401.0,1142.1 400.0,1143.2 399.0,1142.7 398.0,1145.9 397.0,1142.9 396.0,1143.3 395.0,1142.6 394.0,1143.1 393.0,1142.5 392.0,1143.6 391.0,1141.1 390.0,1143.0 389.0,1142.3 388.0,1143.0 387.0,1141.9 386.0,1145.5 385.0,1143.2 384.0,1141.6 383.0,1142.7 382.0,1143.7 381.0,1141.7 380.0,1142.0 379.0,1142.6 378.0,1141.1 377.0,1143.6 376.0,1142.1 375.0,1141.2 374.0,1141.4 373.0,1142.6 372.0,1142.4 371.0,1143.3 370.0,1143.3 369.0,1143.4 368.0,1143.1 367.0,1143.3 366.0,1143.3 365.0,1142.9 364.0,1142.6 363.0,1142.5 362.0,1143.5 361.0,1142.9 360.0,1143.1 359.0,1141.8 358.0,1143.3 357.0,1142.0 356.0,1141.2 355.0,1144.4 354.0,1142.9 353.0,1143.9 352.0,1141.7 351.0,1143.2 350.0,1141.4 349.0,1141.8 348.0,1141.9 347.0,1142.8 346.0,1143.5 345.0,1142.5 344.0,1141.7 343.0,1143.1 342.0,1143.7 341.0,1143.3 340.0,1141.2 339.0,1143.5 338.0,1142.3 337.0,1142.2 336.0,1143.5 335.0,1141.2 334.0,1143.3 333.0,1140.9 332.0,1141.9 331.0,1142.9 330.0,1141.4 329.0,1141.0 328.0,1141.8 327.0,1143.3 326.0,1141.8 325.0,1142.2 324.0,1143.5 323.0,1141.9 322.0,1142.4 321.0,1141.4 320.0,1141.9 319.0,1142.6 318.0,1141.6 317.0,1141.3 316.0,1142.2 315.0,1140.8 314.0,1141.7 313.0,1143.6 312.0,1142.5 311.0,1144.4 310.0,1142.4 309.0,1141.2 308.0,1142.9 307.0,1141.5 306.0,1142.4 305.0,1141.1 304.0,1142.0 303.0,1141.5 302.0,1140.6 301.0,1142.7 300.0,1141.2 299.0,1142.6 298.0,1142.3 297.0,1141.8 296.0,1145.3 295.0,1142.0 294.0,1141.5 293.0,1143.1 292.0,1143.3 291.0,1141.2 290.0,1143.4 289.0,1143.4 288.0,1142.9 287.0,1142.0 286.0,1141.8 285.0,1143.2 284.0,1142.0 283.0,1142.0 282.0,1142.6 281.0,1142.7 280.0,1143.6 279.0,1146.4 278.0,1143.1 277.0,1147.5 276.0,1146.1 275.0,1143.3 274.0,1143.6 273.0,1143.4 272.0,1143.7 271.0,1144.9 270.0,1145.2 269.0,1143.9 268.0,1147.6 267.0,1147.9 266.0,1143.7 265.0,1144.0 264.0,1143.5 263.0,1145.8 262.0,1143.1 261.0,1143.4 260.0,1147.5 259.0,1145.4 258.0,1145.1 257.0,1143.9 256.0,1144.0 255.0,1143.6 254.0,1143.4 253.0,1145.2 252.0,1145.9 251.0,1145.3 250.0,1144.5 249.0,1146.0 248.0,1144.8 247.0,1147.0 246.0,1143.8 245.0,1144.9 244.0,1148.8 243.0,1145.8 242.0,1146.5 241.0,1146.2 240.0,1146.6 239.0,1144.4 238.0,1144.6 237.0,1145.9 236.0,1145.2 235.0,1148.2 234.0,1144.3 233.0,1148.4 232.0,1145.4 231.0,1145.4 230.0,1146.5 229.0,1144.7 228.0,1145.6 227.0,1145.4 226.0,1144.0 225.0,1144.3 224.0,1146.6 223.0,1146.0 222.0,1144.8 221.0,1145.6 220.0,1144.5 219.0,1146.3 218.0,1144.6 217.0,1146.2 216.0,1145.5 215.0,1145.9 214.0,1145.5 213.0,1144.5 212.0,1145.4 211.0,1145.3 210.0,1148.0 209.0,1146.3 208.0,1146.0 207.0,1144.4 206.0,1145.2 205.0,1144.5 204.0,1145.1 203.0,1146.7 202.0,1145.1 201.0,1146.9 200.0,1147.3 199.0,1147.4 198.0,1144.7 197.0,1145.8 196.0,1148.4 195.0,1145.7 194.0,1146.5 193.0,1145.5 192.0,1145.7 191.0,1146.5 190.0,1147.2 189.0,1144.8 188.0,1146.3 187.0,1144.8 186.0,1145.4 185.0,1145.9 184.0,1145.3 183.0,1145.2 182.0,1145.0 181.0,1145.1 180.0,1146.6 179.0,1145.6 178.0,1145.7 177.0,1147.2 176.0,1145.6 175.0,1147.0 174.0,1145.8 173.0,1145.0 172.0,1148.4 171.0,1147.2 170.0,1145.1 169.0,1145.4 168.0,1145.3 167.0,1146.7 166.0,1146.3 165.0,1145.0 164.0,1146.8 163.0,1145.2 162.0,1148.4 161.0,1145.2 160.0,1146.3 159.0,1145.3 158.0,1146.7 157.0,1146.3 156.0,1144.6 155.0,1146.0 154.0,1145.5 153.0,1144.7 152.0,1145.7 151.0,1144.5 150.0,1145.6 149.0,1146.2 148.0,1144.2 147.0,1145.0 146.0,1146.2 145.0,1146.4 144.0,1145.9 143.0,1144.4 142.0,1144.4 141.0,1144.4 140.0,1145.5 139.0,1144.2 138.0,1146.4 137.0,1145.5 136.0,1144.3 135.0,1146.5 134.0,1144.9 133.0,1145.0 132.0,1143.1 131.0,1143.5 130.0,1141.4 129.0,1142.5 128.0,1140.8 127.0,1139.6 126.0,1140.2 125.0,1138.0 124.0,1139.2 123.0,1137.5 122.0,1139.3 121.0,1138.5 120.0,1137.3 119.0,1137.4 118.0,1139.3 117.0,1138.6 116.0,1139.2 115.0,1139.2 114.0,1139.5 113.0,1138.3 112.0,1139.2 111.0,1139.0 110.0,1138.0 109.0,1138.3 108.0,1138.5 107.0,1139.5 106.0,1139.4 105.0,1139.0 104.0,1139.8 103.0,1139.5 102.0,1137.9 101.0,1137.2 100.0,1138.6 99.0,1138.7 98.0,1139.7 97.0,1137.2 96.0,1137.4 95.0,1139.3 94.0,1139.2 93.0,1137.2 92.0,1138.9 91.0,1137.8 90.0,1139.0 89.0,1139.7 88.0,1138.7 87.0,1139.5 86.0,1138.4 85.0,1139.1 84.0,1137.0 83.0,1138.7 82.0,1137.9 81.0,1137.9 80.0,1138.7 79.0,1139.0 78.0,1140.6 77.0,1141.3 76.0,1142.6 75.0,1140.2 74.0,1141.1 73.0,1141.9 72.0,1139.5 71.0,1140.1 70.0,1140.0 69.0,1139.6 68.0,1141.2 67.0,1139.5 66.0,1140.5 65.0,1141.8 64.0,1140.6 63.0,1141.0 62.0,1140.6 61.0,1143.5 60.0,1140.6 59.0,1140.2 58.0,1140.7 57.0,1139.3 56.0,1139.7 55.0,1141.5 54.0,1141.1 53.0,1139.1Z" fill="#000"/>
<path d="M58.0,1129.1V1194.5M67.5,1129.1V1180.0M68.5,1129.1V1175.0M69.5,1129.2V1172.0M70.5,1129.2V1190.0M72.5,1129.2V1165.0M75.5,1128.9V1170.0M81.8,1125.9V1222.5M90.0,1126.5V1208.8M95.0,1127.0V1167.5M100.8,1127.5V1172.5M102.5,1127.6V1160.0M105.0,1127.6V1167.5M108.8,1127.7V1165.0M110.8,1127.8V1166.0M113.0,1127.8V1167.5M115.0,1127.9V1168.8M118.0,1128.0V1180.0M119.5,1128.0V1213.8M128.8,1128.3V1178.8M141.2,1133.3V1202.0M145.0,1133.8V1171.0M148.0,1133.8V1161.0M160.8,1133.7V1173.8M163.0,1133.6V1177.5M168.2,1133.4V1251.0M170.0,1133.4V1205.0M178.2,1133.1V1162.5M182.5,1133.0V1184.5M191.5,1132.9V1260.8M203.2,1132.6V1151.0M210.0,1132.2V1205.0M213.2,1132.1V1155.0M217.0,1131.9V1168.0M221.2,1131.8V1163.8M232.0,1132.0V1182.5M243.0,1132.0V1182.0M254.5,1130.8V1155.8M268.0,1130.5V1151.0M276.5,1130.5V1171.0M285.0,1130.1V1162.5M290.0,1129.8V1160.0M296.2,1129.3V1184.0M301.2,1129.0V1197.5M305.0,1129.0V1182.0M307.5,1129.1V1170.0M311.8,1129.1V1157.5M315.5,1129.2V1152.5M320.8,1129.2V1205.8M324.5,1129.2V1152.5M328.8,1129.3V1159.0M333.8,1129.3V1155.0M346.2,1129.5V1170.0M350.0,1129.5V1188.8M352.0,1129.5V1180.0M356.2,1129.4V1150.8M362.0,1129.3V1163.8M365.8,1129.3V1185.8M383.0,1129.0V1207.5M392.0,1128.9V1162.5M400.8,1128.7V1160.0M403.2,1128.6V1159.0M412.0,1128.0V1155.0M425.0,1127.3V1152.5M433.0,1126.9V1176.0M437.0,1126.9V1182.0M451.0,1126.6V1146.0" stroke="#000" stroke-width="1.7" fill="none"/>
<path d="M425,1236H464.1V1191.2" stroke="#231f20" stroke-width="5.8" fill="none" stroke-linejoin="miter"/>
<text transform="translate(420.84,1265.10) scale(1.0013,1)" font-size="31" style="fill:#000;stroke:#000;stroke-width:0.28px">30s</text>
<text transform="translate(476.70,1179.66) rotate(90) scale(0.9490,1)" font-size="32.5" style="stroke:#000;stroke-width:0.29px">20pA</text>
<rect x="677.7" y="23" width="26.4" height="26.4" fill="#ff0000"/>
<rect x="677.7" y="62.6" width="26.4" height="26.4" fill="#000"/>
<text transform="translate(708.25,45.00) scale(0.9551,1)" font-size="24.5" style="fill:#000;stroke:#000;stroke-width:0.22px">Sensitive</text>
<text transform="translate(708.00,84.00) scale(0.9725,1)" font-size="24.5" style="fill:#000;stroke:#000;stroke-width:0.22px">Insensitive</text>
<rect x="675.5" y="113.6" width="63" height="419.0" fill="#ff0000"/>
<rect x="770" y="113.6" width="63" height="419.0" fill="#000"/>
<rect x="770" y="427.9" width="63" height="104.8" fill="#ff0000"/>
<rect x="864.6" y="113.6" width="63" height="419.0" fill="#000"/>
<rect x="864.6" y="375.5" width="63" height="157.1" fill="#ff0000"/>
<path d="M644.1,111.9V534.3M642.4,532.6H960" stroke="#000" stroke-width="3.4" fill="none"/>
<path d="M637,532.6H644" stroke="#000" stroke-width="3.2"/>
<text transform="translate(617.26,542.90) scale(0.9500,1)" font-size="31" style="fill:#000;stroke:#000;stroke-width:0.28px">0</text>
<path d="M637,448.8H644" stroke="#000" stroke-width="3.2"/>
<text transform="translate(600.91,459.10) scale(0.9500,1)" font-size="31" style="fill:#000;stroke:#000;stroke-width:0.28px">20</text>
<path d="M637,365.0H644" stroke="#000" stroke-width="3.2"/>
<text transform="translate(600.91,375.30) scale(0.9500,1)" font-size="31" style="fill:#000;stroke:#000;stroke-width:0.28px">40</text>
<path d="M637,281.2H644" stroke="#000" stroke-width="3.2"/>
<text transform="translate(600.91,291.50) scale(0.9500,1)" font-size="31" style="fill:#000;stroke:#000;stroke-width:0.28px">60</text>
<path d="M637,197.4H644" stroke="#000" stroke-width="3.2"/>
<text transform="translate(600.91,207.70) scale(0.9500,1)" font-size="31" style="fill:#000;stroke:#000;stroke-width:0.28px">80</text>
<path d="M637,113.6H644" stroke="#000" stroke-width="3.2"/>
<text transform="translate(584.50,123.90) scale(0.9500,1)" font-size="31" style="fill:#000;stroke:#000;stroke-width:0.28px">100</text>
<path d="M707,532.6V540.6" stroke="#000" stroke-width="3.2"/>
<path d="M801.5,532.6V540.6" stroke="#000" stroke-width="3.2"/>
<path d="M896,532.6V540.6" stroke="#000" stroke-width="3.2"/>
<text transform="translate(696.99,517.60) scale(0.9800,1)" font-size="36.8" style="fill:#fff;stroke:#fff;stroke-width:0.33px">7</text>
<text transform="translate(791.49,517.60) scale(0.9800,1)" font-size="36.8" style="fill:#fff;stroke:#fff;stroke-width:0.33px">2</text>
<text transform="translate(886.08,517.60) scale(0.9800,1)" font-size="36.8" style="fill:#fff;stroke:#fff;stroke-width:0.33px">3</text>
<text transform="translate(790.36,154.60) scale(0.9800,1)" font-size="36.8" style="fill:#fff;stroke:#fff;stroke-width:0.33px">6</text>
<text transform="translate(885.79,154.60) scale(0.9800,1)" font-size="36.8" style="fill:#fff;stroke:#fff;stroke-width:0.33px">5</text>
<text transform="translate(583.30,401.29) rotate(-90) scale(0.9368,1)" font-size="39.3" style="stroke:#000;stroke-width:0.35px">% of cells</text>
<text transform="translate(724.50,559.80) rotate(-45) scale(0.9850,1)" x="-116.38" font-size="31.2" style="stroke:#000;stroke-width:0.28px">DAMGO</text>
<text transform="translate(819.00,559.80) rotate(-45) scale(1.0050,1)" x="-165.36" font-size="31.2" style="stroke:#000;stroke-width:0.28px">Deltorphin II</text>
<text transform="translate(913.50,559.80) rotate(-45) scale(0.9950,1)" x="-118.33" font-size="31.2" style="stroke:#000;stroke-width:0.28px">U-69593</text>
<path d="M647.5,698.8V1122.7M645.8,1120.7H964.7" stroke="#000" stroke-width="3.4" fill="none"/>
<path d="M637.5,1121.0H647" stroke="#000" stroke-width="3.2"/>
<text transform="translate(616.76,1131.30) scale(0.9500,1)" font-size="31" style="fill:#000;stroke:#000;stroke-width:0.28px">0</text>
<path d="M641.8,1105.7H647" stroke="#000" stroke-width="3"/>
<path d="M641.8,1090.4H647" stroke="#000" stroke-width="3"/>
<path d="M641.8,1075.2H647" stroke="#000" stroke-width="3"/>
<path d="M641.8,1059.9H647" stroke="#000" stroke-width="3"/>
<path d="M637.5,1044.6H647" stroke="#000" stroke-width="3.2"/>
<text transform="translate(600.41,1054.90) scale(0.9500,1)" font-size="31" style="fill:#000;stroke:#000;stroke-width:0.28px">20</text>
<path d="M641.8,1029.3H647" stroke="#000" stroke-width="3"/>
<path d="M641.8,1014.0H647" stroke="#000" stroke-width="3"/>
<path d="M641.8,998.8H647" stroke="#000" stroke-width="3"/>
<path d="M641.8,983.5H647" stroke="#000" stroke-width="3"/>
<path d="M637.5,968.2H647" stroke="#000" stroke-width="3.2"/>
<text transform="translate(600.41,978.50) scale(0.9500,1)" font-size="31" style="fill:#000;stroke:#000;stroke-width:0.28px">40</text>
<path d="M641.8,952.9H647" stroke="#000" stroke-width="3"/>
<path d="M641.8,937.6H647" stroke="#000" stroke-width="3"/>
<path d="M641.8,922.4H647" stroke="#000" stroke-width="3"/>
<path d="M641.8,907.1H647" stroke="#000" stroke-width="3"/>
<path d="M637.5,891.8H647" stroke="#000" stroke-width="3.2"/>
<text transform="translate(600.41,902.10) scale(0.9500,1)" font-size="31" style="fill:#000;stroke:#000;stroke-width:0.28px">60</text>
<path d="M641.8,876.5H647" stroke="#000" stroke-width="3"/>
<path d="M641.8,861.2H647" stroke="#000" stroke-width="3"/>
<path d="M641.8,846.0H647" stroke="#000" stroke-width="3"/>
<path d="M641.8,830.7H647" stroke="#000" stroke-width="3"/>
<path d="M637.5,815.4H647" stroke="#000" stroke-width="3.2"/>
<text transform="translate(600.41,825.70) scale(0.9500,1)" font-size="31" style="fill:#000;stroke:#000;stroke-width:0.28px">80</text>
<path d="M641.8,800.1H647" stroke="#000" stroke-width="3"/>
<path d="M641.8,784.8H647" stroke="#000" stroke-width="3"/>
<path d="M641.8,769.6H647" stroke="#000" stroke-width="3"/>
<path d="M641.8,754.3H647" stroke="#000" stroke-width="3"/>
<path d="M637.5,739.0H647" stroke="#000" stroke-width="3.2"/>
<text transform="translate(584.00,749.30) scale(0.9500,1)" font-size="31" style="fill:#000;stroke:#000;stroke-width:0.28px">100</text>
<path d="M641.8,723.7H647" stroke="#000" stroke-width="3"/>
<path d="M641.8,708.4H647" stroke="#000" stroke-width="3"/>
<path d="M710.5,1121.0V1129.8" stroke="#000" stroke-width="3.2"/>
<path d="M804,1121.0V1129.8" stroke="#000" stroke-width="3.2"/>
<path d="M898,1121.0V1129.8" stroke="#000" stroke-width="3.2"/>
<text transform="translate(725.30,1150.00) rotate(-45) scale(0.9850,1)" x="-116.38" font-size="31.2" style="stroke:#000;stroke-width:0.28px">DAMGO</text>
<text transform="translate(818.80,1150.00) rotate(-45) scale(1.0050,1)" x="-165.36" font-size="31.2" style="stroke:#000;stroke-width:0.28px">Deltorphin II</text>
<text transform="translate(912.80,1150.00) rotate(-45) scale(0.9950,1)" x="-118.33" font-size="31.2" style="stroke:#000;stroke-width:0.28px">U-69593</text>
<text transform="translate(582.00,1031.48) rotate(-90) scale(0.9911,1)" font-size="37.6" style="stroke:#000;stroke-width:0.34px">amplitude (pA)</text>
<path d="M557.9,1052.3L582.4,1063.2L582.4,1041.8ZM563.51,1053.48L580.50,1046.20L580.50,1061.04Z" fill="#000" fill-rule="evenodd"/>
<path d="M649.2,1105.3H961" stroke="#ff0000" stroke-width="2.8" stroke-dasharray="8.6 4.9" fill="none"/>
<path d="M710.3,789.5V1067.6M693.3,789.5H727.3M693.3,1067.6H727.3M677.8,929H742.8" stroke="#ff0000" stroke-width="3.2" fill="none"/>
<path d="M899,1024.3V1095.8M882,1024.3H916M882,1095.8H916M866.5,1060H931.5" stroke="#ff0000" stroke-width="3.2" fill="none"/>
<path d="M772.2,1083.3H836.8" stroke="#ff0000" stroke-width="3.2" fill="none"/>
<clipPath id="cl"><rect x="640" y="690" width="328" height="432.5"/></clipPath>
<g clip-path="url(#cl)">
<circle cx="779.75" cy="1118" r="7.9" fill="#000"/>
<circle cx="789.75" cy="1106.25" r="7.9" fill="#000"/>
<circle cx="799.75" cy="1113.75" r="7.9" fill="#000"/>
<circle cx="809" cy="1108" r="7.9" fill="#000"/>
<circle cx="819" cy="1117.5" r="7.9" fill="#000"/>
<circle cx="829.25" cy="1112.5" r="7.9" fill="#000"/>
<circle cx="874.25" cy="1102.5" r="7.9" fill="#000"/>
<circle cx="874.25" cy="1117.5" r="7.9" fill="#000"/>
<circle cx="891" cy="1108" r="7.9" fill="#000"/>
<circle cx="907.25" cy="1113.75" r="7.9" fill="#000"/>
<circle cx="924.25" cy="1110.75" r="7.9" fill="#000"/>
<circle cx="710.3" cy="737" r="7.9" fill="#ff0000"/>
<circle cx="710.3" cy="816.75" r="7.9" fill="#ff0000"/>
<circle cx="710.3" cy="846.25" r="7.9" fill="#ff0000"/>
<circle cx="710.3" cy="907.5" r="7.9" fill="#ff0000"/>
<circle cx="710.3" cy="1022.6" r="7.9" fill="#ff0000"/>
<circle cx="710.3" cy="1070.5" r="7.9" fill="#ff0000"/>
<circle cx="710.3" cy="1101.8" r="7.9" fill="#ff0000"/>
<circle cx="800.25" cy="1083.75" r="7.9" fill="#ff0000"/>
<circle cx="809.25" cy="1082" r="7.9" fill="#ff0000"/>
<circle cx="899.25" cy="1020.5" r="7.9" fill="#ff0000"/>
<circle cx="899.25" cy="1065.75" r="7.9" fill="#ff0000"/>
<circle cx="891" cy="1091.75" r="7.9" fill="#ff0000"/>
</g>
<circle cx="821.5" cy="742.6" r="8.4" fill="#ff0000"/>
<circle cx="821.5" cy="774.3" r="8.4" fill="#000"/>
<text transform="translate(836.34,750.00) scale(0.9671,1)" font-size="24.3" style="fill:#000;stroke:#000;stroke-width:0.22px">Sensitive</text>
<text transform="translate(835.99,781.75) scale(0.9832,1)" font-size="24.3" style="fill:#000;stroke:#000;stroke-width:0.22px">Insensitive</text>
</svg></body></html>
